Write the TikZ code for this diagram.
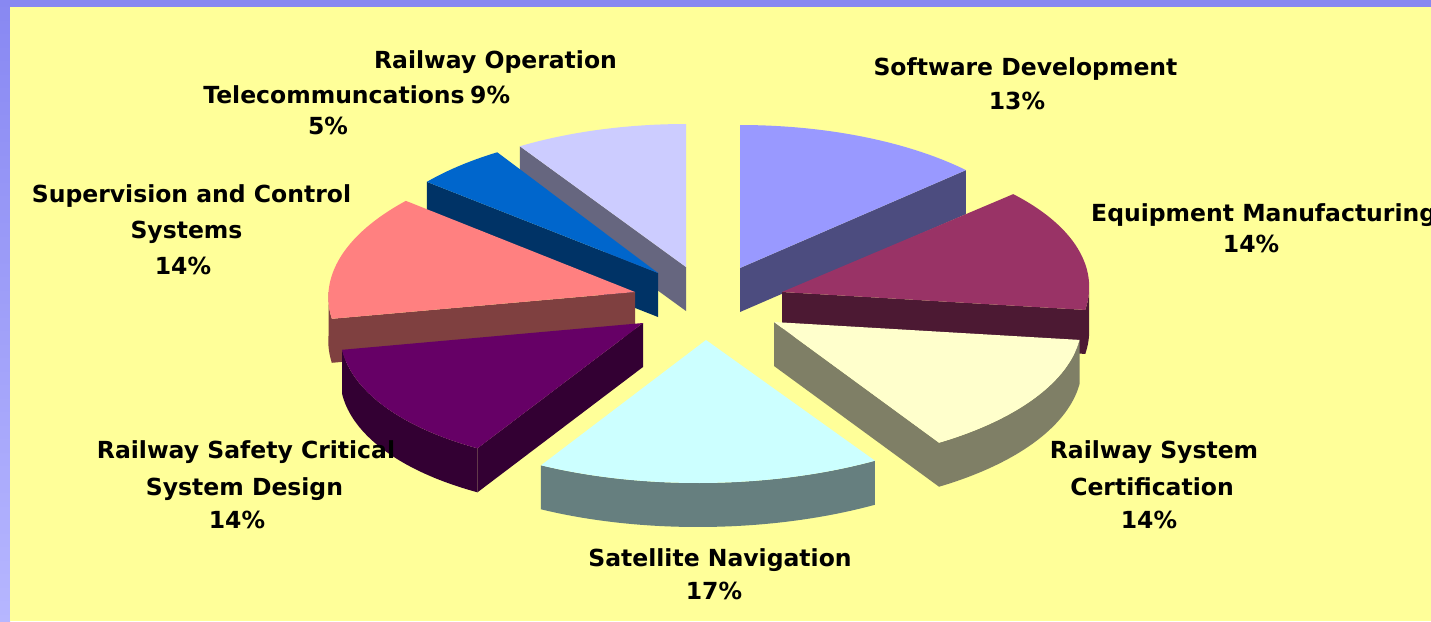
\documentclass[tikz,border=0pt]{standalone}
\usepackage{fontspec}
\setmainfont{DejaVu Sans}
\definecolor{bgyellow}{HTML}{FFFF99}
\definecolor{frametop}{HTML}{8888F2}
\definecolor{framebot}{HTML}{B6B6FF}
% top and side colours of the slices
\definecolor{sdtop}{HTML}{9999FF}\definecolor{sdside}{HTML}{4C4C7F}
\definecolor{emtop}{HTML}{993366}\definecolor{emside}{HTML}{4C1933}
\definecolor{rsctop}{HTML}{FFFFCC}\definecolor{rscside}{HTML}{7F7F66}
\definecolor{sntop}{HTML}{CCFFFF}\definecolor{snside}{HTML}{667F7F}
\definecolor{rsdtop}{HTML}{660066}\definecolor{rsdside}{HTML}{330033}
\definecolor{scstop}{HTML}{FF8080}\definecolor{scsside}{HTML}{7F4040}
\definecolor{teltop}{HTML}{0066CC}\definecolor{telside}{HTML}{003366}
\definecolor{rotop}{HTML}{CCCCFF}\definecolor{roside}{HTML}{66667F}
% vertical radius and thickness of the pie
\def\pieRY{143}
\def\pieDP{44}
% current slice: apex x, apex y, horizontal radius, slant of the front
\newcommand{\setslice}[4]{\def\sax{#1}\def\say{#2}\def\srx{#3}\def\ssh{#4}}
% rim of the current slice at angle #1 (clockwise from the back)
\def\rimx#1{\sax+\srx*sin(#1)-(\ssh)*\pieRY*cos(#1)}
\def\rimy#1{\say-\pieRY*cos(#1)}
% top face: from angle, to angle, colour
\newcommand{\slicetop}[3]{%
  \fill[#3] (\sax,\say) -- plot[domain=#1:#2,samples=60]
    ({\rimx{\x}},{\rimy{\x}}) -- cycle;}
% cut face along one radius: angle, colour
\newcommand{\sliceface}[2]{%
  \fill[#2] (\sax,\say) -- ({\rimx{#1}},{\rimy{#1}})
    -- ({\rimx{#1}},{\rimy{#1}+\pieDP}) -- (\sax,{\say+\pieDP}) -- cycle;}
% outer rim: from angle, to angle, colour
\newcommand{\slicerim}[3]{%
  \fill[#3] plot[domain=#1:#2,samples=40] ({\rimx{\x}},{\rimy{\x}})
    -- plot[domain=#2:#1,samples=40] ({\rimx{\x}},{\rimy{\x}+\pieDP}) -- cycle;}
\begin{document}
\begin{tikzpicture}[x=1pt,y=-1pt,
  lbl/.style={font=\bfseries\fontsize{23.5}{28}\selectfont,anchor=base,inner sep=0pt,text=black}]
\useasboundingbox (0,0) rectangle (1431,621);
\clip (0,0) rectangle (1431,621);
% frame and background
\fill[frametop] (0,0) rectangle (1431,7.3);
\shade[top color=frametop,bottom color=framebot] (0,0) rectangle (10,621);
\fill[bgyellow] (10,7.3) rectangle (1431,621);

% slices, back to front
% Railway Operation
\setslice{686}{267}{310}{0}
\sliceface{327.6}{roside}
\slicetop{327.6}{360}{rotop}
% Software Development
\setslice{740}{268}{310}{0}
\sliceface{46.8}{sdside}
\slicetop{0}{46.8}{sdtop}
% Telecommunications
\setslice{658}{273}{300}{0}
\sliceface{309.6}{telside}
\slicetop{309.6}{327.6}{teltop}
% Equipment Manufacturing
\setslice{782}{292}{307}{-0.076}
\slicerim{90}{97.2}{emside}
\sliceface{97.2}{emside}
\slicetop{46.8}{97.2}{emtop}
% Supervision and Control Systems
\setslice{635}{292}{306.5}{-0.077}
\slicerim{259.2}{270}{scsside}
\sliceface{259.2}{scsside}
\slicetop{259.2}{309.6}{scstop}
% Railway System Certification
\setslice{774}{322}{308}{0}
\slicerim{97.2}{147.6}{rscside}
\sliceface{147.6}{rscside}
\slicetop{97.2}{147.6}{rsctop}
% Railway Safety Critical System Design
\setslice{643}{323}{302}{-0.16}
\slicerim{208.8}{259.2}{rsdside}
\sliceface{208.8}{rsdside}
\slicetop{208.8}{259.2}{rsdtop}
% Satellite Navigation
\setslice{706}{340}{328}{-0.056}
\slicerim{147.6}{208.8}{snside}
\slicetop{147.6}{208.8}{sntop}

% labels
\node[lbl] (sd1) at (1025.5,75.5) {Software Development};
\node[lbl] (sd2) at (1017,109.5) {13\%};
\node[lbl,anchor=base west] (em1) at (1091,221.7) {Equipment Manufacturing};
\node[lbl] (em2) at (1251,252.7) {14\%};
\node[lbl] (rsc1) at (1154,458) {Railway System};
\node[lbl] (rsc2) at (1152,495) {Certification};
\node[lbl] (rsc3) at (1149,528) {14\%};
\node[lbl] (sn1) at (720,566) {Satellite Navigation};
\node[lbl] (sn2) at (714,599) {17\%};
\node[lbl] (rsd1) at (246,458) {Railway Safety Critical};
\node[lbl] (rsd2) at (244.5,495) {System Design};
\node[lbl] (rsd3) at (237,528) {14\%};
\node[lbl] (scs1) at (191.5,202) {Supervision and Control};
\node[lbl] (scs2) at (186.5,238) {Systems};
\node[lbl] (scs3) at (183,274) {14\%};
\node[lbl] (tel1) at (334,103.3) {Telecommuncations};
\node[lbl] (tel2) at (328,134) {5\%};
\node[lbl] (ro1) at (495.5,68.3) {Railway Operation};
\node[lbl,anchor=base west] (ro2) at (470,103.3) {9\%};
\end{tikzpicture}
\end{document}
